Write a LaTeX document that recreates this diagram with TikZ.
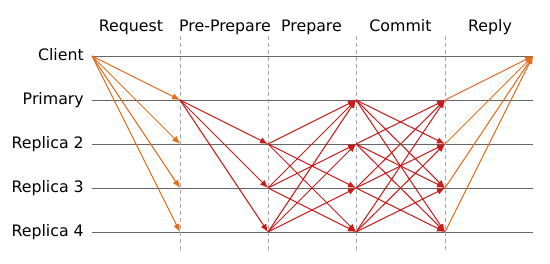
\documentclass[tikz,border=0pt]{standalone}
\usepackage{fontspec}
\setmainfont{DejaVu Sans}
\usetikzlibrary{arrows.meta}
\definecolor{reqc}{RGB}{224,110,30}
\definecolor{msgc}{RGB}{200,28,28}

\begin{document}
\begin{tikzpicture}[
  x=1pt, y=-1pt,
  font=\fontsize{15.8}{18}\selectfont, >={Latex[length=8pt,width=6.5pt]},
  who/.style={anchor=base east, inner sep=0pt},
  phase/.style={anchor=base, inner sep=0pt},
  wire/.style={draw=black!60, line width=0.9pt},
  cut/.style={draw=black!35, dash pattern=on 4pt off 3pt, line width=0.6pt},
  req/.style={->, draw=reqc, fill=reqc, line width=1pt},
  msg/.style={->, draw=msgc, fill=msgc, line width=1pt},
]
\useasboundingbox (0,0) rectangle (550,264);

% ---------------- grid points ----------------
\foreach \r/\y in {0/56,1/100,2/144,3/188,4/232}
  \foreach \c/\x in {a/92,b/180,c/268,d/356,e/445,f/533}
    \coordinate (\c\r) at (\x,\y);

% ---------------- rows ----------------
\node[who] (client)  at (84,60.5)  {Client};
\node[who] (primary) at (84,104.5) {Primary};
\node[who] (rep2)    at (84,148.5) {Replica 2};
\node[who] (rep3)    at (84,192.5) {Replica 3};
\node[who] (rep4)    at (84,236.5) {Replica 4};
\foreach \r in {0,...,4}
  \draw[wire] (a\r) -- (f\r);

% ---------------- phases ----------------
\node[phase] (request)    at (131,32)   {Request};
\node[phase] (preprepare) at (225,32)   {Pre-Prepare};
\node[phase] (prepare)    at (311.5,32) {Prepare};
\node[phase] (commit)     at (400.5,32) {Commit};
\node[phase] (reply)      at (490,32)   {Reply};
\foreach \c in {b,c,d,e}
  \draw[cut] ([yshift=20pt]\c0) -- ([yshift=-18pt]\c4);

% ---------------- messages ----------------
\foreach \r in {1,...,4}
  \draw[req] (a0) -- (b\r);
\foreach \r in {2,3,4}
  \draw[msg] (b1) -- (c\r);
\foreach \s in {2,3,4}
  \foreach \r in {1,...,4}
    {\ifnum\s=\r\else\draw[msg] (c\s) -- (d\r);\fi}
\foreach \s in {1,...,4}
  \foreach \r in {1,...,4}
    {\ifnum\s=\r\else\draw[msg] (d\s) -- (e\r);\fi}
\foreach \s in {1,...,4}
  \draw[req] (e\s) -- (f0);
\end{tikzpicture}
\end{document}
